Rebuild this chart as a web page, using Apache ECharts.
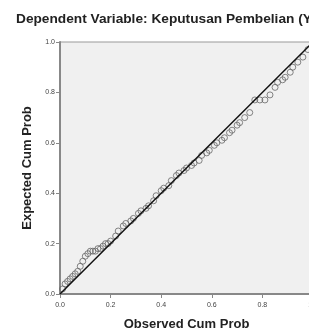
<!DOCTYPE html>
<html>
<head>
<meta charset="utf-8">
<script src="https://cdn.jsdelivr.net/npm/echarts@6/dist/echarts.min.js"></script>
<style>
  html, body { margin: 0; padding: 0; background: #fff; }
  #chart { width: 309px; height: 330px; }
</style>
</head>
<body>
<div id="chart"></div>
<script>
// observed cum prob vs expected cum prob
var observed = [0.01, 0.02, 0.03, 0.04, 0.05, 0.06, 0.07, 0.08, 0.09, 0.10,
  0.11, 0.12, 0.13, 0.14, 0.15, 0.16, 0.17, 0.18, 0.19, 0.20,
  0.22, 0.23, 0.25, 0.26, 0.28, 0.29, 0.31, 0.32, 0.34, 0.35,
  0.37, 0.38, 0.40, 0.41, 0.43, 0.44, 0.46, 0.47, 0.49, 0.50,
  0.52, 0.53, 0.55, 0.56, 0.58, 0.59, 0.61, 0.62, 0.64, 0.65,
  0.67, 0.68, 0.70, 0.71, 0.73, 0.75, 0.77, 0.79, 0.81, 0.83,
  0.85, 0.86, 0.88, 0.89, 0.91, 0.92, 0.94, 0.96, 0.98, 1.00];
var expected = [0.02, 0.04, 0.05, 0.06, 0.07, 0.08, 0.09, 0.11, 0.13, 0.15,
  0.16, 0.17, 0.17, 0.17, 0.18, 0.18, 0.19, 0.20, 0.20, 0.21,
  0.23, 0.25, 0.27, 0.28, 0.29, 0.30, 0.32, 0.33, 0.34, 0.35,
  0.37, 0.39, 0.41, 0.42, 0.43, 0.45, 0.47, 0.48, 0.49, 0.50,
  0.51, 0.52, 0.53, 0.55, 0.56, 0.57, 0.59, 0.60, 0.61, 0.62,
  0.64, 0.65, 0.67, 0.68, 0.70, 0.72, 0.77, 0.77, 0.77, 0.79,
  0.82, 0.84, 0.85, 0.86, 0.88, 0.90, 0.92, 0.94, 0.97, 1.00];
var diagonal = [[0, 0], [1, 1]];

var points = observed.map(function (x, i) { return [x, expected[i]]; });

var chart = echarts.init(document.getElementById('chart'));
chart.setOption({
  animation: false,
  title: {
    text: 'Dependent Variable: Keputusan Pembelian (Y)',
    left: 11,
    top: 7,
    textStyle: { fontFamily: 'Liberation Sans', fontSize: 13.7, fontWeight: 'bold', color: '#222' }
  },
  grid: {
    left: 60,
    top: 42,
    width: 253,
    height: 252,
    outerBoundsMode: 'none',
    containLabel: false,
    show: true,
    backgroundColor: '#f0f0f0',
    borderColor: '#999',
    borderWidth: 1
  },
  xAxis: {
    type: 'value',
    min: 0,
    max: 1,
    interval: 0.2,
    name: 'Observed Cum Prob',
    nameLocation: 'middle',
    nameGap: 24,
    nameTextStyle: { fontFamily: 'Liberation Sans', fontSize: 13, fontWeight: 'bold', color: '#222' },
    axisLine: { lineStyle: { color: '#888', width: 2 } },
    axisTick: { show: true, length: 4, lineStyle: { color: '#888' } },
    axisLabel: {
      fontFamily: 'Liberation Sans', fontSize: 7, color: '#444', margin: 8,
      formatter: function (v) { return v.toFixed(1); }
    },
    splitLine: { show: false }
  },
  yAxis: {
    type: 'value',
    min: 0,
    max: 1,
    interval: 0.2,
    name: 'Expected Cum Prob',
    nameLocation: 'middle',
    nameGap: 15,
    nameTextStyle: { fontFamily: 'Liberation Sans', fontSize: 13, fontWeight: 'bold', color: '#222' },
    axisLine: { lineStyle: { color: '#888', width: 2 } },
    axisTick: { show: true, length: 4, lineStyle: { color: '#888' } },
    axisLabel: {
      fontFamily: 'Liberation Sans', fontSize: 7, color: '#444', margin: 5,
      formatter: function (v) { return v.toFixed(1); }
    },
    splitLine: { show: false }
  },
  series: [
    {
      type: 'line',
      data: diagonal,
      symbol: 'none',
      lineStyle: { color: '#111', width: 1.5 },
      z: 3
    },
    {
      type: 'scatter',
      data: points,
      symbol: 'circle',
      symbolSize: 6,
      itemStyle: { color: 'rgba(0,0,0,0)', borderColor: '#666', borderWidth: 1 },
      z: 2
    }
  ]
});
</script>
</body>
</html>
